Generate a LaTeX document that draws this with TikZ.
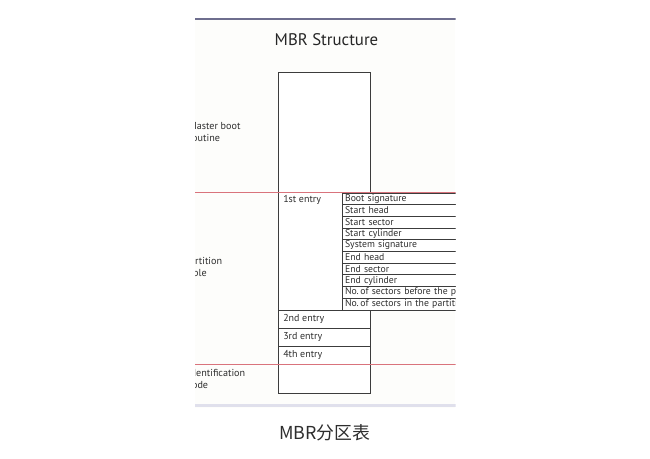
\documentclass[tikz,border=0pt]{standalone}
\usepackage{fontspec}
\setmainfont{PT Sans}
\newfontfamily\cjkfont{Noto Sans CJK SC}
\definecolor{topline}{HTML}{6E6E8E}
\definecolor{botline}{HTML}{E0E0EC}
\definecolor{redline}{HTML}{D9737C}
\definecolor{boxline}{HTML}{3C3C3C}
\definecolor{txt}{HTML}{2E2E2E}
\definecolor{paper}{HTML}{FDFDFB}
\tikzset{
  mainbox/.style={draw=boxline, line width=0.8pt, fill=white, inner sep=0pt},
  entrycell/.style={draw=boxline, line width=0.7pt, fill=white, minimum width=69pt, minimum height=13.7pt, inner sep=0pt, anchor=north west},
  subrow/.style={draw=boxline, line width=0.6pt, fill=white, minimum width=124pt, minimum height=8.78pt, text width=120pt, inner xsep=2pt, inner ysep=0pt, align=left, anchor=north west, font=\fontsize{7.3pt}{7.5pt}\selectfont, text=txt},
  lbl/.style={font=\fontsize{7.5pt}{9pt}\selectfont, text=txt, inner sep=0pt, anchor=west},
  sidelbl/.style={font=\fontsize{7.6pt}{9pt}\selectfont, text=txt, inner sep=0pt, anchor=north west, align=left},
  sep/.style={draw=redline, line width=0.7pt}
}
\begin{document}
\begin{tikzpicture}[x=0.75pt, y=-0.75pt]
\useasboundingbox (0,0) rectangle (650,458);
\fill[white] (0,0) rectangle (650,458);
\fill[paper] (195,18) rectangle (455,408);
\begin{scope}
\clip (195,0) rectangle (455.5,458);
% top and bottom rules
\coordinate (tl) at (190,19);
\coordinate (tr) at (460,19);
\draw[topline, line width=1.1pt] (tl) -- (tr);
\coordinate (bl) at (190,405.5);
\coordinate (br) at (460,405.5);
\draw[botline, line width=2pt] (bl) -- (br);
% title
\node[font=\fontsize{12.6pt}{14pt}\selectfont, text=black!85, inner sep=0pt] (title) at (326.5,40) {MBR Structure};
% side labels
\node[sidelbl] (master) at (188.5,122) {Master boot\\routine};
\node[sidelbl] (part) at (184.5,257.5) {Partition\\table};
\node[sidelbl] (ident) at (187.5,369) {Identification\\code};
% main box
\node[mainbox, minimum width=69pt, minimum height=240.75pt, anchor=north west] (mbr) at (278.3,72) {};
% first entry label
\node[lbl] (e1) at (283,199.5) {1st entry};
% sub-table rows
\node[subrow] (r1) at (342,192.5) {Boot signature};
\node[subrow] (r2) at (342,204.2) {Start head};
\node[subrow] (r3) at (342,215.9) {Start sector};
\node[subrow] (r4) at (342,227.6) {Start cylinder};
\node[subrow] (r5) at (342,239.3) {System signature};
\node[subrow] (r6) at (342,251.0) {End head};
\node[subrow] (r7) at (342,262.7) {End sector};
\node[subrow] (r8) at (342,274.4) {End cylinder};
\node[subrow] (r9) at (342,286.1) {No.\,of sectors before the partition};
\node[subrow] (r10) at (342,297.8) {No.\,of sectors in the partition};
% entry cells
\node[entrycell] (c2) at (278.3,309.5) {};
\node[entrycell] (c3) at (278.3,327.8) {};
\node[entrycell] (c4) at (278.3,346.1) {};
\node[lbl] (e2) at (283,318.5) {2nd entry};
\node[lbl] (e3) at (283,337) {3rd entry};
\node[lbl] (e4) at (283,355) {4th entry};
% red separators
\coordinate (s1l) at (190,192);
\coordinate (s1r) at (460,192);
\coordinate (s2l) at (190,364.3);
\coordinate (s2r) at (460,364.3);
\draw[sep] (s1l) -- (s1r);
\draw[sep] (s2l) -- (s2r);
\end{scope}
% caption
\node[font=\cjkfont\fontsize{13.4pt}{15pt}\selectfont, text=txt, inner sep=0pt] (cap) at (325,433) {MBR分区表};
\end{tikzpicture}
\end{document}
